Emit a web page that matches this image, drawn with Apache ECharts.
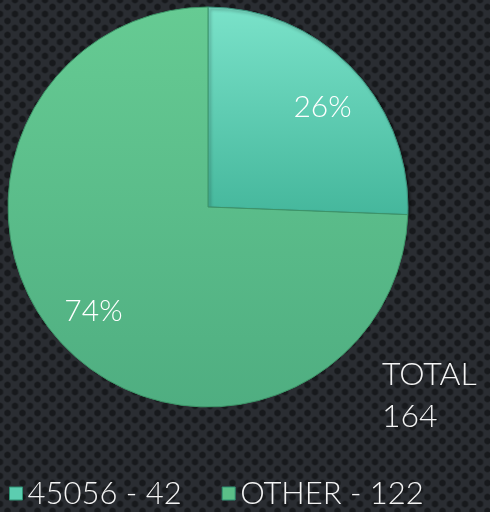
<!DOCTYPE html>
<html><head><meta charset="utf-8">
<script src="https://cdn.jsdelivr.net/npm/echarts@6/dist/echarts.min.js"></script>
<style>
html,body{margin:0;padding:0;width:490px;height:512px;overflow:hidden;}
body{background-color:#2a2d32;
background-image:radial-gradient(circle, #17191c 0px, #17191c 2.5px, rgba(23,25,28,0) 4px),radial-gradient(circle, #17191c 0px, #17191c 2.5px, rgba(23,25,28,0) 4px);
background-size:15px 14px,15px 14px;background-position:0 0,7.5px 7px;}
#c{width:490px;height:512px;}
</style></head><body><div id="c"></div>
<script>
const categories = ['45056', 'OTHER'];
const values = [42, 122];
const percentLabels = ['26%', '74%'];
const totalLabel = ['TOTAL', '164'];

const chart = echarts.init(document.getElementById('c'), null, {renderer:'canvas'});
const font = 'Lato, "Open Sans", sans-serif';
const colors = [
  new echarts.graphic.LinearGradient(0,0,0,1,[{offset:0,color:'#7ae2c9'},{offset:1,color:'#45b79c'}]),
  new echarts.graphic.LinearGradient(0,0,0,1,[{offset:0,color:'#66cb93'},{offset:1,color:'#4fae81'}])
];
const legendColors = ['#5ccdb0', '#5bbf88'];
const borderColors = ['#3a8f7a', '#3d9468'];
const labelOffsets = [[0, 11], [0, -6]];
const pieData = categories.map((c,i)=>({
  name: c, value: values[i],
  itemStyle: {color: colors[i], borderColor: borderColors[i], borderWidth: 1,
    shadowColor: i===0 ? 'rgba(0,0,0,0.45)' : 'rgba(0,0,0,0)', shadowBlur: i===0?3:0, shadowOffsetX: i===0?2:0, shadowOffsetY: i===0?2:0}
}));
chart.setOption({
  backgroundColor: 'transparent',
  animation: false,
  legend: {
    bottom: -2, left: 4, itemGap: 40, icon: 'rect', itemWidth: 13, itemHeight: 13,
    data: categories.map((c,i)=>({name:c, itemStyle:{color: legendColors[i], borderColor:'#2f8f72', borderWidth:1}})),
    formatter: name => name + ' - ' + values[categories.indexOf(name)],
    textStyle: {color: '#f4f4f4', fontSize: 31, fontWeight: 300, fontFamily: font}
  },
  graphic: [{
    type: 'text', left: 382, top: 354,
    style: {text: totalLabel.join('\n'), fill: '#f4f4f4', font: '300 32px ' + font, lineHeight: 42}
  }],
  series: [{
    type: 'pie', center: [208, 207], radius: [0, 200], startAngle: 90, clockwise: true,
    silent: true, data: pieData,
    label: {show: false}, labelLine: {show: false}
  },{
    type: 'pie', center: [208, 207], radius: [112, 200], startAngle: 90, clockwise: true,
    silent: true,
    data: categories.map((c,i)=>({name:c, value: values[i], itemStyle:{color:'rgba(0,0,0,0)', borderWidth:0},
      label: {offset: labelOffsets[i]}})),
    label: {show: true, position: 'inside', formatter: p => percentLabels[p.dataIndex],
      color: '#ffffff', fontSize: 30, fontWeight: 300, fontFamily: font},
    labelLine: {show: false}
  }]
});
</script></body></html>
